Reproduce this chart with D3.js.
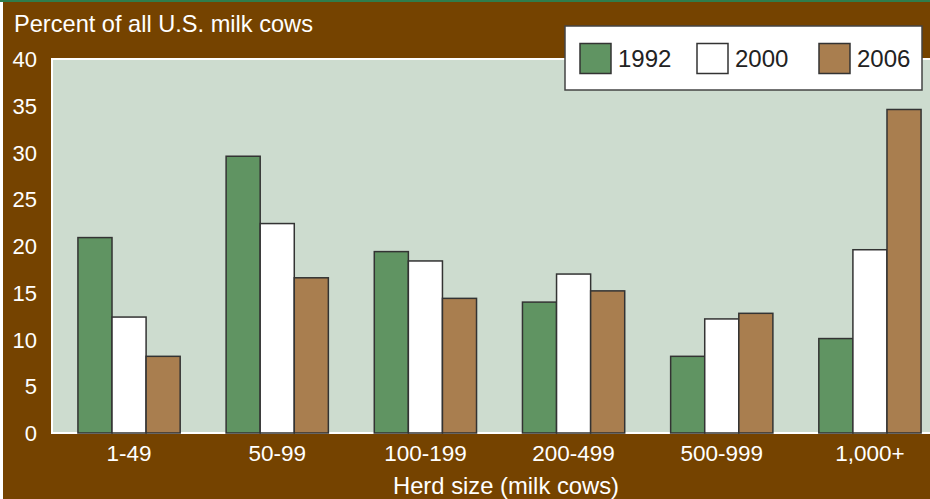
<!DOCTYPE html>
<html>
<head>
<meta charset="utf-8">
<script src="https://cdn.jsdelivr.net/npm/d3@7"></script>
<style>
  html, body { margin: 0; padding: 0; background: #ffffff; }
  svg { display: block; font-family: "Liberation Sans", Arial, Helvetica, sans-serif; }
</style>
</head>
<body>
<svg id="chart" width="930" height="499"></svg>
<script>
// Share of U.S. milk cows by herd size
const categories = ["1-49", "50-99", "100-199", "200-499", "500-999", "1,000+"];
const seriesNames = ["1992", "2000", "2006"];
const values1992 = [20.9, 29.6, 19.4, 14.0, 8.2, 10.1];
const values2000 = [12.4, 22.4, 18.4, 17.0, 12.2, 19.6];
const values2006 = [8.2, 16.6, 14.4, 15.2, 12.8, 34.6];
const yTicks = [0, 5, 10, 15, 20, 25, 30, 35, 40];

const seriesValues = [values1992, values2000, values2006];
const colors = ["#609462", "#ffffff", "#a97e4f"];

const svg = d3.select("#chart");
const W = 930, H = 499;

// page frame: thin green rule on top, brown panel
svg.append("rect").attr("x", 0).attr("y", 0).attr("width", W).attr("height", H).attr("fill", "#ffffff");
svg.append("rect").attr("x", 3).attr("y", 2).attr("width", W - 3).attr("height", H - 2).attr("fill", "#754300");
svg.append("rect").attr("x", 0).attr("y", 0).attr("width", W).attr("height", 2).attr("fill", "#2f7d4c");

const plot = { left: 52, top: 59, bottom: 433, right: 947 };

const y = d3.scaleLinear().domain([0, 40]).range([plot.bottom, plot.top]);
const x0 = d3.scaleBand().domain(categories).range([plot.left, plot.right])
  .paddingInner(0.31).paddingOuter(0.175);
const x1 = d3.scaleBand().domain(seriesNames).range([0, x0.bandwidth()]);

// plot background with white edge
svg.append("rect")
  .attr("x", plot.left).attr("y", plot.top)
  .attr("width", 940 - plot.left).attr("height", plot.bottom - plot.top)
  .attr("fill", "#cddccf").attr("stroke", "#ffffff").attr("stroke-width", 2);

// y axis labels
const yAxis = d3.axisLeft(y).tickValues(yTicks).tickSize(0).tickPadding(0);
const gy = svg.append("g").attr("transform", `translate(${plot.left - 15},0)`).call(yAxis);
gy.select(".domain").remove();
gy.selectAll("text").attr("fill", "#ffffff").attr("font-size", 22)
  .attr("font-family", "Liberation Sans, Arial, sans-serif").attr("dy", "0.35em");

// bars
const groups = svg.append("g").selectAll("g")
  .data(categories)
  .join("g")
  .attr("transform", d => `translate(${x0(d)},0)`);

groups.selectAll("rect")
  .data((c, i) => seriesNames.map((s, j) => ({ s, j, v: seriesValues[j][i] })))
  .join("rect")
  .attr("x", d => x1(d.s))
  .attr("y", d => y(d.v))
  .attr("width", x1.bandwidth())
  .attr("height", d => y(0) - y(d.v))
  .attr("fill", d => colors[d.j])
  .attr("stroke", "#333333")
  .attr("stroke-width", 1.5);

// x axis labels
const xAxis = d3.axisBottom(x0).tickSize(0).tickPadding(0);
const gx = svg.append("g").attr("transform", `translate(0,${plot.bottom})`).call(xAxis);
gx.select(".domain").remove();
gx.selectAll("text").attr("fill", "#ffffff").attr("font-size", 22.5)
  .attr("font-family", "Liberation Sans, Arial, sans-serif").attr("dy", null).attr("y", 28);

// titles
svg.append("text").attr("x", 14).attr("y", 32).attr("fill", "#ffffff")
  .attr("font-size", 23.6).text("Percent of all U.S. milk cows");
svg.append("text").attr("x", 506).attr("y", 494).attr("fill", "#ffffff")
  .attr("font-size", 23.8).attr("text-anchor", "middle").text("Herd size (milk cows)");

// legend
const legend = svg.append("g");
legend.append("rect").attr("x", 565).attr("y", 26).attr("width", 357).attr("height", 64)
  .attr("fill", "#ffffff").attr("stroke", "#444444").attr("stroke-width", 1.5);
const legendX = [580, 697, 819];
seriesNames.forEach((s, j) => {
  legend.append("rect").attr("x", legendX[j]).attr("y", 43.5).attr("width", 31).attr("height", 30)
    .attr("fill", colors[j]).attr("stroke", "#333333").attr("stroke-width", 1.5);
  legend.append("text").attr("x", legendX[j] + 38).attr("y", 67)
    .attr("font-size", 24).attr("fill", "#222222").text(s);
});
</script>
</body>
</html>
